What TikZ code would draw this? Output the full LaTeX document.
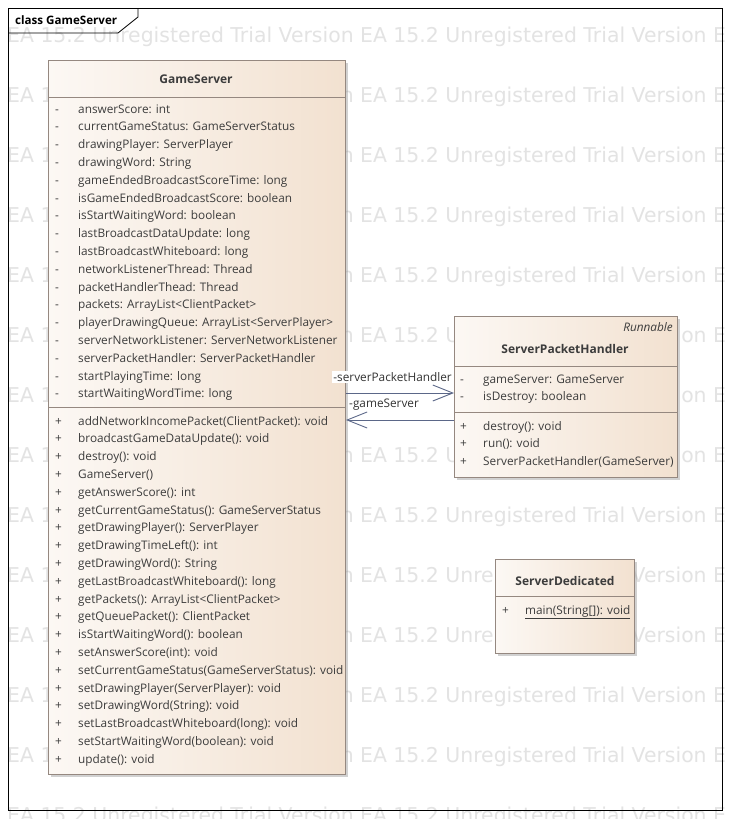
\documentclass[tikz,border=0pt]{standalone}
\usepackage{fontspec}
\setmainfont{Open Sans}
\newfontfamily\wmfont{DejaVu Sans}
\usepackage{array}
\usetikzlibrary{arrows.meta,shadows}
\definecolor{boxL}{HTML}{FCF8F4}
\definecolor{boxR}{HTML}{F2E1D0}
\definecolor{boxLine}{HTML}{958880}
\definecolor{umlText}{HTML}{3C3C3C}
\definecolor{assocLine}{HTML}{5B6788}
\definecolor{wmGray}{HTML}{E3E3E3}
\newcolumntype{V}{@{}p{23pt}@{}l@{}}
\tikzset{
  classbox/.style={draw=boxLine, line width=0.9pt, left color=boxL, right color=boxR,
    anchor=north west, inner sep=0pt,
    drop shadow={shadow xshift=3pt, shadow yshift=-3pt, fill=black!40, opacity=0.45}},
  sep/.style={draw=boxLine, line width=0.9pt},
  members/.style={anchor=base west, inner sep=0pt, text=umlText,
    font=\fontsize{11.8pt}{17.8pt}\selectfont},
  classname/.style={inner sep=0pt, text=umlText, font=\fontsize{12pt}{14pt}\selectfont\bfseries},
  stereo/.style={anchor=east, inner sep=0pt, text=umlText, font=\fontsize{11.8pt}{14pt}\selectfont\itshape},
  assoc/.style={draw=assocLine, line width=0.9pt, -{Straight Barb[length=20pt,width=16pt]}},
  rolelabel/.style={inner sep=1pt, text=black!80, font=\fontsize{11.8pt}{14pt}\selectfont},
  watermark/.style={anchor=base west, inner sep=0pt, text=wmGray, font=\wmfont\fontsize{20.4pt}{24pt}\selectfont},
}
\newcommand{\wmHead}{EA 15.2 Unregistered Trial Versio}

\begin{document}
\begin{tikzpicture}[x=1pt, y=-1pt]
    \useasboundingbox (0,0) rectangle (729,819);
    \clip (0,0) rectangle (729,819);
    \fill[white] (0,0) rectangle (729,819);

    % trial watermark, only the parts that show
    \node (wmTop) [watermark] at (7,42) {EA 15.2 Unregistered Trial Version EA 15.2 Unregistered Trial Version E};
    \node (wmBottom) [watermark] at (7,822) {EA 15.2 Unregistered Trial Version EA 15.2 Unregistered Trial Version E};
    \foreach \y in {95,155,...,755}
        \node (wmL\y) [watermark] at (7,{\y+7}) {EA 1};
    \foreach \y in {95,155,215,275,515,695,755}
        \node (wmR\y) [watermark] at (7,{\y+7}) {\phantom{\wmHead}n EA 15.2 Unregistered Trial Version E};
    \foreach \y in {335,455}
        \node (wmM\y) [watermark] at (7,{\y+7}) {\phantom{\wmHead}n EA 15.2 U};
    \foreach \y in {335,395,455}
        \node (wmR\y) [watermark] at (7,{\y+7}) {\phantom{\wmHead n EA 15.2 Unregistered Trial Versi}on E};
    \foreach \y in {575,635} {
        \node (wmM\y) [watermark] at (7,{\y+7}) {\phantom{\wmHead}n EA 15.2 Unre};
        \node (wmR\y) [watermark] at (7,{\y+7}) {\phantom{\wmHead n EA 15.2 Unregistered Trial }Version E};
    }

    % diagram frame
    \node (frame) [draw, line width=0.8pt, minimum width=714pt, minimum height=802pt, anchor=north west, inner sep=0pt] at (8,8) {};
    \draw[line width=0.8pt] (frame.north west |- 0,33) -- (118,33) -- (138,17) -- (138,8);
    \node (frameLabel) [anchor=west, inner sep=0pt, font=\fontsize{11.6pt}{14pt}\selectfont\bfseries] at (15,20) {class GameServer};

    % GameServer
    \node (gs) [classbox, minimum width=297pt, minimum height=714pt] at (48,60) {};
    \node (gsName) [classname] at (196,79) {GameServer};
    \draw[sep] (gs.west |- 0,97) -- (gs.east |- 0,97);
    \draw[sep] (gs.west |- 0,407) -- (gs.east |- 0,407);
    \node (gsAttr) [members] at (55,113) {\begin{tabular}[t]{V}
        - & answerScore: int\\
        - & currentGameStatus: GameServerStatus\\
        - & drawingPlayer: ServerPlayer\\
        - & drawingWord: String\\
        - & gameEndedBroadcastScoreTime: long\\
        - & isGameEndedBroadcastScore: boolean\\
        - & isStartWaitingWord: boolean\\
        - & lastBroadcastDataUpdate: long\\
        - & lastBroadcastWhiteboard: long\\
        - & networkListenerThread: Thread\\
        - & packetHandlerThead: Thread\\
        - & packets: ArrayList<ClientPacket>\\
        - & playerDrawingQueue: ArrayList<ServerPlayer>\\
        - & serverNetworkListener: ServerNetworkListener\\
        - & serverPacketHandler: ServerPacketHandler\\
        - & startPlayingTime: long\\
        - & startWaitingWordTime: long
    \end{tabular}};
    \node (gsOps) [members] at (55,425) {\begin{tabular}[t]{V}
        + & addNetworkIncomePacket(ClientPacket): void\\
        + & broadcastGameDataUpdate(): void\\
        + & destroy(): void\\
        + & GameServer()\\
        + & getAnswerScore(): int\\
        + & getCurrentGameStatus(): GameServerStatus\\
        + & getDrawingPlayer(): ServerPlayer\\
        + & getDrawingTimeLeft(): int\\
        + & getDrawingWord(): String\\
        + & getLastBroadcastWhiteboard(): long\\
        + & getPackets(): ArrayList<ClientPacket>\\
        + & getQueuePacket(): ClientPacket\\
        + & isStartWaitingWord(): boolean\\
        + & setAnswerScore(int): void\\
        + & setCurrentGameStatus(GameServerStatus): void\\
        + & setDrawingPlayer(ServerPlayer): void\\
        + & setDrawingWord(String): void\\
        + & setLastBroadcastWhiteboard(long): void\\
        + & setStartWaitingWord(boolean): void\\
        + & update(): void
    \end{tabular}};

    % ServerPacketHandler
    \node (sph) [classbox, minimum width=223pt, minimum height=161pt] at (454,316) {};
    \node (sphStereo) [stereo] at (673,327) {Runnable};
    \node (sphName) [classname] at (565,349) {ServerPacketHandler};
    \draw[sep] (sph.west |- 0,366) -- (sph.east |- 0,366);
    \draw[sep] (sph.west |- 0,412) -- (sph.east |- 0,412);
    \node (sphAttr) [members] at (460,383) {\begin{tabular}[t]{V}
        - & gameServer: GameServer\\
        - & isDestroy: boolean
    \end{tabular}};
    \node (sphOps) [members] at (460,430) {\begin{tabular}[t]{V}
        + & destroy(): void\\
        + & run(): void\\
        + & ServerPacketHandler(GameServer)
    \end{tabular}};

    % ServerDedicated
    \node (sd) [classbox, minimum width=139pt, minimum height=94pt] at (495,559) {};
    \node (sdName) [classname] at (565,581) {ServerDedicated};
    \draw[sep] (sd.west |- 0,596) -- (sd.east |- 0,596);
    \node (sdOps) [members] at (502,614) {\begin{tabular}[t]{V}
        + & \underline{main(String[]): void}
    \end{tabular}};

    % associations
    \coordinate (gsOut) at (gs.east |- 0,393);
    \coordinate (sphIn) at (sph.west |- 0,393);
    \coordinate (sphOut) at (sph.west |- 0,420);
    \coordinate (gsIn) at (gs.east |- 0,420);
    \draw[assoc] (gsOut) -- (sphIn);
    \draw[assoc] (sphOut) -- (gsIn);
    \node (roleHandler) [rolelabel, fill=white, anchor=east] at (453,377) {-serverPacketHandler};
    \node (roleGame) [rolelabel, anchor=west] at (348,405) {-gameServer};
\end{tikzpicture}
\end{document}
